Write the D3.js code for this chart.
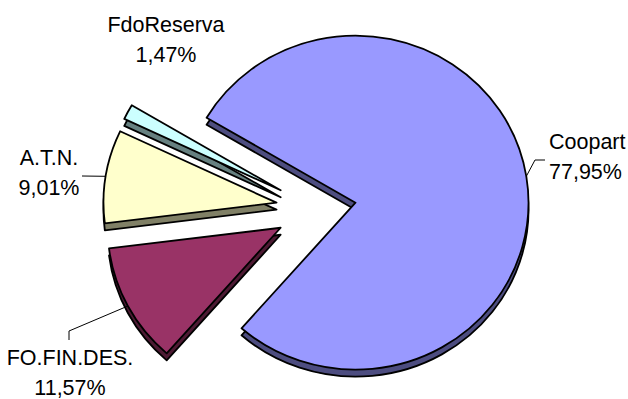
<!DOCTYPE html>
<html>
<head>
<meta charset="utf-8">
<script src="https://cdn.jsdelivr.net/npm/d3@7"></script>
<style>
  html, body { margin: 0; padding: 0; background: #ffffff; }
  svg { display: block; }
  text { font-family: "Liberation Sans", Arial, sans-serif; font-size: 21.5px; fill: #000; }
</style>
</head>
<body>
<svg id="chart" width="628" height="399"></svg>
<script>
// Slice data, in drawing order (clockwise from the upper-left cut)
const categories  = ["Coopart", "FO.FIN.DES.", "A.T.N.", "FdoReserva"];
const shares      = [77.95, 11.57, 9.01, 1.47];
const shareLabels = ["77,95%", "11,57%", "9,01%", "1,47%"];

// Face colours: top surface and the darker extruded side
const topColors  = ["#9999FF", "#993366", "#FFFFCC", "#CCFFFF"];
const sideColors = ["#4D4D80", "#4D1A33", "#808066", "#668080"];

// Pie geometry
const W = 628, H = 399;
const cx = 316, cy = 209;      // common pie centre before explosion
const rx = 173, ry = 167;      // tilted (elliptical) radii
const explode = 40;            // every slice is pulled out by this much
const depth = 7;               // thickness of the 3-D disc
const startDeg = 300.6;        // pie start angle, degrees from 12 o'clock

// Label placement: anchor, first baseline and leader waypoints
const labelLayout = {
  "Coopart":     { x: 549, y: 149, anchor: "start",  leader: [[535, 160], [545, 160]] },
  "FO.FIN.DES.": { x: 70,  y: 365, anchor: "middle", leader: [[69, 331], [69, 340]] },
  "A.T.N.":      { x: 49,  y: 165, anchor: "middle", leader: [[82, 176]] },
  "FdoReserva":  { x: 166, y: 32,  anchor: "middle", leader: null }
};
const lineGap = 30;

const svg = d3.select("#chart");

const color = d3.scaleOrdinal().domain(categories).range(topColors);
const side  = d3.scaleOrdinal().domain(categories).range(sideColors);

const start = startDeg * Math.PI / 180;
const pie = d3.pie()
  .sort(null)
  .value(d => d.value)
  .startAngle(start)
  .endAngle(start + 2 * Math.PI);

const rows = categories.map((c, i) => ({ name: c, value: shares[i], label: shareLabels[i] }));
const arcs = pie(rows);

// d3.pie angles run clockwise from 12 o'clock; convert to screen parametric angle
const toScreen = a => a - Math.PI / 2;

function sliceGeom(d) {
  const t0 = toScreen(d.startAngle), t1 = toScreen(d.endAngle);
  const tm = (t0 + t1) / 2;
  const ox = cx + explode * Math.cos(tm);
  const oy = cy + explode * Math.sin(tm);
  return { t0, t1, tm, ox, oy };
}

function slicePath(d, dy) {
  const g = sliceGeom(d);
  const ax = g.ox, ay = g.oy + dy;
  const x0 = ax + rx * Math.cos(g.t0), y0 = ay + ry * Math.sin(g.t0);
  const x1 = ax + rx * Math.cos(g.t1), y1 = ay + ry * Math.sin(g.t1);
  const large = (g.t1 - g.t0) > Math.PI ? 1 : 0;
  return `M${ax},${ay}L${x0},${y0}A${rx},${ry} 0 ${large} 1 ${x1},${y1}Z`;
}

const gPie = svg.append("g");

// Extruded underside (shows as the side walls)
gPie.selectAll("path.side")
  .data(arcs)
  .join("path")
  .attr("class", "side")
  .attr("d", d => slicePath(d, depth))
  .attr("fill", d => side(d.data.name))
  .attr("stroke", "#000")
  .attr("stroke-width", 1.8)
  .attr("stroke-linejoin", "round");

// Top surfaces
gPie.selectAll("path.top")
  .data(arcs)
  .join("path")
  .attr("class", "top")
  .attr("d", d => slicePath(d, 0))
  .attr("fill", d => color(d.data.name))
  .attr("stroke", "#000")
  .attr("stroke-width", 1.8)
  .attr("stroke-linejoin", "round");

// Leader lines from the middle of each slice's rim, then the two-line labels
const gLab = svg.append("g");
arcs.forEach(d => {
  const lay = labelLayout[d.data.name];
  if (lay.leader) {
    const g = sliceGeom(d);
    const pts = [[g.ox + rx * Math.cos(g.tm), g.oy + ry * Math.sin(g.tm)]].concat(lay.leader);
    gLab.append("path")
      .attr("d", d3.line()(pts))
      .attr("fill", "none")
      .attr("stroke", "#000")
      .attr("stroke-width", 1);
  }
  const t = gLab.append("text")
    .attr("x", lay.x)
    .attr("y", lay.y)
    .attr("text-anchor", lay.anchor);
  t.append("tspan").attr("x", lay.x).text(d.data.name);
  t.append("tspan").attr("x", lay.x).attr("dy", lineGap).text(d.data.label);
});
</script>
</body>
</html>
